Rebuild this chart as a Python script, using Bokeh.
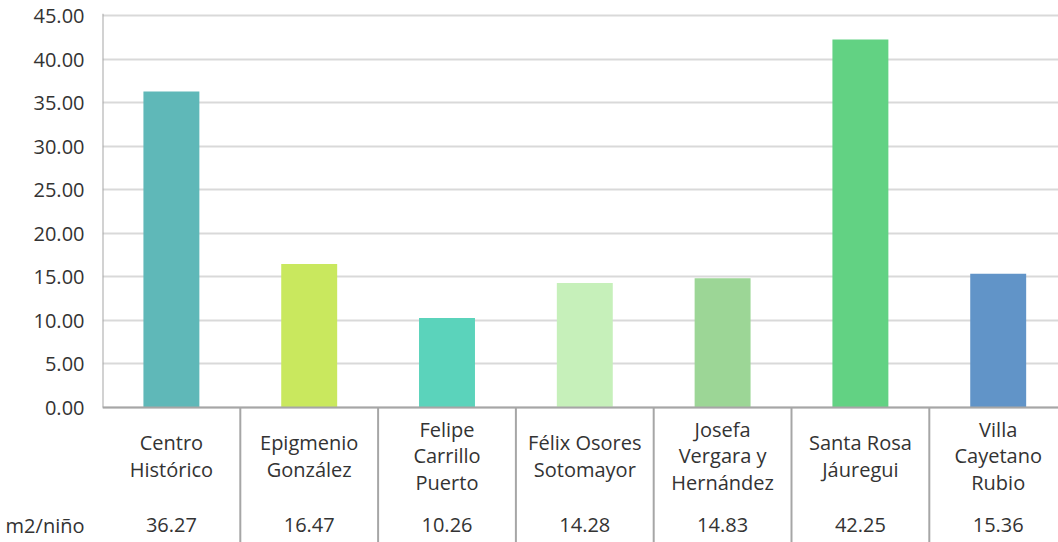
from bokeh.plotting import figure
from bokeh.models import Range1d, FixedTicker, NumeralTickFormatter, ColumnDataSource
from bokeh.embed import file_html
from bokeh.resources import INLINE
from bokeh.core.properties import value

# ---- data ----
categories = ["Centro\nHistórico", "Epigmenio\nGonzález", "Felipe\nCarrillo\nPuerto",
              "Félix Osores\nSotomayor", "Josefa\nVergara y\nHernández",
              "Santa Rosa\nJáuregui", "Villa\nCayetano\nRubio"]
values = [36.27, 16.47, 10.26, 14.28, 14.83, 42.25, 15.36]
value_labels = ["36.27", "16.47", "10.26", "14.28", "14.83", "42.25", "15.36"]
colors = ["#5FB8B8", "#C9E85E", "#5BD3BB", "#C6F0BA", "#9CD696", "#62D283", "#6194C8"]
series_name = "m2/niño"
y_ticks = [0, 5, 10, 15, 20, 25, 30, 35, 40, 45]

FONT = value("Open Sans")
TXT = "#333333"
px_per_unit = 392 / 45.0
col_px = 137.8

n = len(categories)
xs = [i + 0.5 for i in range(n)]

W, H = 1058, 542
left, top = 102, 13
frame_h = H - top
y0_px = 407 - top  # zero line from frame top
y_end = 45 + (y0_px - 392) / px_per_unit
y_start = y_end - frame_h / px_per_unit
x_end = (W - left) / col_px

cat_y = (407 - 455.5) / px_per_unit
val_y = -13.5  # row of values in the table below the axis

p = figure(width=W, height=H, output_backend="svg", toolbar_location=None,
           x_range=Range1d(0, x_end), y_range=Range1d(y_start, y_end),
           x_axis_location=None, min_border_left=left, min_border_right=0,
           min_border_top=top, min_border_bottom=0)
p.outline_line_color = None
p.background_fill_color = "white"
p.border_fill_color = "white"

ax = p.yaxis[0]
ax.ticker = FixedTicker(ticks=y_ticks + [val_y])
ax.formatter = NumeralTickFormatter(format="0.00")
ax.major_label_overrides = {val_y: series_name}
ax.axis_line_color = None
ax.major_tick_line_color = None
ax.minor_tick_line_color = None
ax.major_tick_out = 0
ax.major_label_standoff = 18
ax.major_label_text_font = "Open Sans"
ax.major_label_text_font_size = "20px"
ax.major_label_text_color = TXT

p.xgrid.visible = False
p.ygrid.ticker = FixedTicker(ticks=y_ticks)
p.ygrid.grid_line_color = "#D9D9D9"
p.ygrid.grid_line_width = 2

src = ColumnDataSource(dict(x=xs, top=values, color=colors, cat=categories, val=value_labels))
p.vbar(x="x", top="top", bottom=0, width=0.406, fill_color="color", line_color=None, source=src)

# axis lines
p.segment(x0=[0], y0=[0], x1=[0], y1=[y_end], line_color="#A6A6A6", line_width=2)
p.segment(x0=[0], y0=[0], x1=[x_end], y1=[0], line_color="#A6A6A6", line_width=2)
# table separators
seps = list(range(1, n + 1))
p.segment(x0=seps, y0=[0] * len(seps), x1=seps, y1=[y_start] * len(seps),
          line_color="#A6A6A6", line_width=2)

p.text(x="x", y=cat_y, text="cat", source=src, text_font=FONT, text_font_size="20px",
       text_color=TXT, text_align="center", text_baseline="middle", text_line_height=0.98)
p.text(x="x", y=val_y, text="val", source=src, text_font=FONT, text_font_size="20px",
       text_color=TXT, text_align="center", text_baseline="middle")

open("out.html", "w").write(file_html(p, INLINE))
